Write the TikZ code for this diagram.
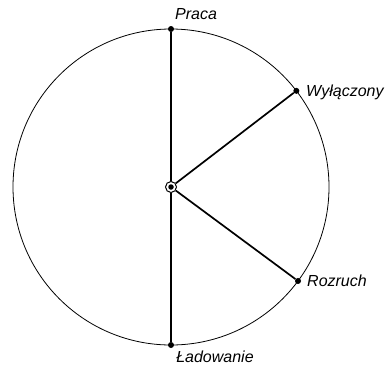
\documentclass[tikz,border=0pt]{standalone}
\usepackage{fontspec}
\setmainfont{Liberation Sans}
\usetikzlibrary{calc}
\begin{document}
\begin{tikzpicture}[x=1pt,y=-1pt,
  rim/.style={line width=0.8pt},
  spoke/.style={line width=1.7pt},
  pt/.style={circle,fill=black,inner sep=0pt,minimum size=6pt},
  lbl/.style={font=\fontsize{16}{19}\selectfont\itshape,inner sep=0pt}]
\useasboundingbox (0,0) rectangle (387,367);
\coordinate (c) at (171,187);
\draw[rim] (c) circle (158);
\node[pt] (top) at (171,29) {};
\node[pt] (bot) at (171,345) {};
\node[pt] (wyl) at ($(c)+(-37.5:158)$) {};
\node[pt] (roz) at ($(c)+(36.5:158)$) {};
\node[circle,draw,line width=1pt,fill=white,minimum size=11pt,inner sep=0pt] (ctr) at (c) {};
\draw[spoke] (top) -- (ctr);
\draw[spoke] (ctr) -- (bot);
\draw[spoke] (ctr) -- (wyl);
\draw[spoke] (ctr) -- (roz);
\node[circle,fill=black,minimum size=5.5pt,inner sep=0pt] at (c) {};
\node[lbl] at (196,14) {Praca};
\node[lbl,anchor=west] at (306,92) {Wyłączony};
\node[lbl,anchor=west] at (307,281) {Rozruch};
\node[lbl] at (215,357) {Ładowanie};
\end{tikzpicture}
\end{document}
